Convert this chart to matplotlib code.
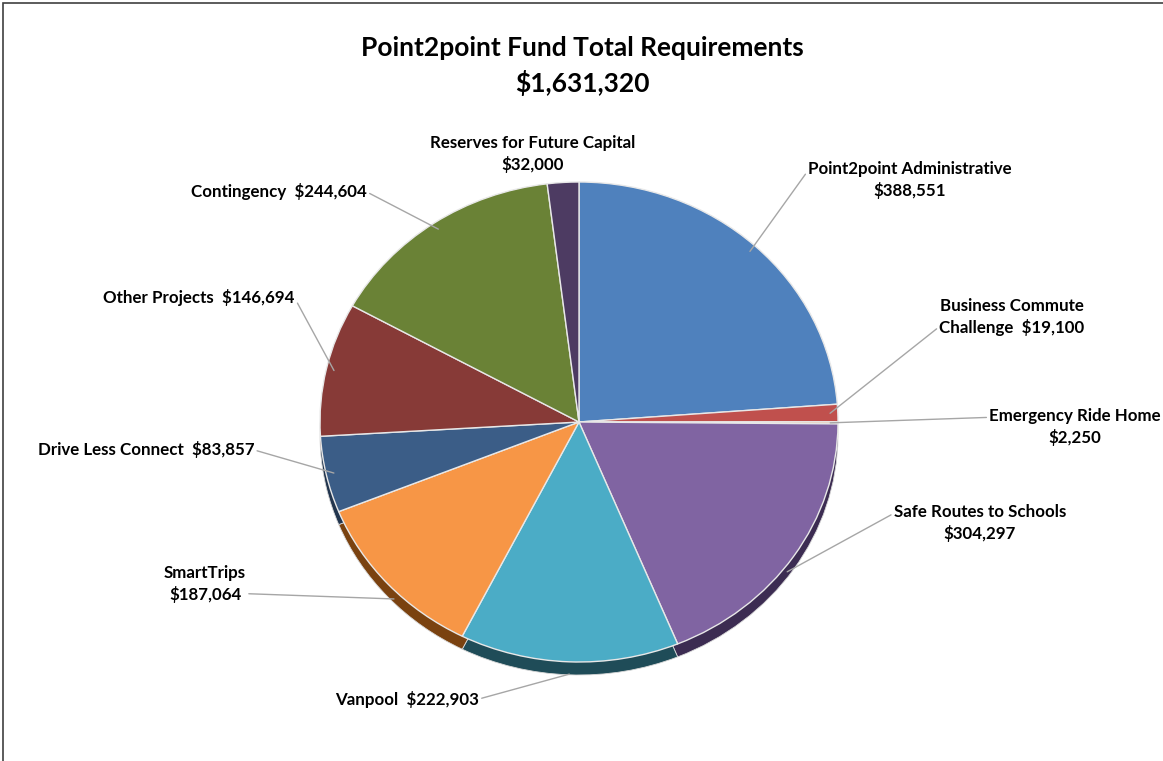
import matplotlib
matplotlib.use("Agg")
import matplotlib.pyplot as plt
from matplotlib.patches import Rectangle
import numpy as np

# data
categories = ["Point2point Administrative", "Business Commute Challenge", "Emergency Ride Home",
              "Safe Routes to Schools", "Vanpool", "SmartTrips", "Drive Less Connect",
              "Other Projects", "Contingency", "Reserves for Future Capital"]
values = [388551, 19100, 2250, 304297, 222903, 187064, 83857, 146694, 244604, 32000]
label_names = ["Point2point Administrative", "Business Commute\nChallenge", "Emergency Ride Home",
               "Safe Routes to Schools", "Vanpool", "SmartTrips", "Drive Less Connect",
               "Other Projects", "Contingency", "Reserves for Future Capital"]
label_sep = ["\n", "  ", "\n", "\n", "  ", "\n", "  ", "  ", "  ", "\n"]
title = "Point2point Fund Total Requirements"

top_colors = ["#4F81BD", "#C0504D", "#E6C7A6", "#8064A2", "#4BACC6", "#F79646",
              "#3B5D87", "#873A37", "#6A8236", "#4D3B62"]
side_colors = ["#2E4F78", "#7A2F2D", "#A88C70", "#3C2C52", "#1F4C58", "#7A4210",
               "#22354E", "#4E1F1E", "#3C4A1E", "#2A2038"]

# label layout (image pixels: centre x, centre y, relpos of leader start)
label_pos = [(910, 180, (0, 0.75)), (1012, 317, (0, 0.25)), (1075, 427, (0, 0.75)),
             (980, 523, (0, 0.75)), (407, 699, (1, 0.5)), (205, 584, (1, 0.25)),
             (146, 450, (1, 0.5)), (199, 298, (1, 0.5)), (279, 192, (1, 0.5)),
             (533, 154, None)]

W, H = 1163, 761
fig = plt.figure(figsize=(W / 100, H / 100), dpi=100)
fig.patch.set_facecolor("white")

# frame (top/left visible)
fig.patches.append(Rectangle((3, -20), W + 40, H - 3 + 20, transform=None,
                             fill=False, edgecolor="#404040", linewidth=1.2))

# pie axes, squashed into an ellipse
cx, cy = 579, 422
rx, ry = 259, 240
depth = 13 / ry
ax = fig.add_axes([(cx - rx) / W, (H - cy - ry) / H, 2 * rx / W, 2 * ry / H])
ax.axis("off")

side, _ = ax.pie(values, colors=side_colors, startangle=90, counterclock=False,
                 center=(0, -depth), radius=1,
                 wedgeprops=dict(edgecolor="#D8D8D8", linewidth=0.6))
top, _ = ax.pie(values, colors=top_colors, startangle=90, counterclock=False,
                center=(0, 0), radius=1,
                wedgeprops=dict(edgecolor="#E8E8E8", linewidth=1.0))
for w in side + top:
    w.set_clip_on(False)
ax.set_aspect("auto")
ax.set_xlim(-1, 1)
ax.set_ylim(-1, 1)

fig.text(582 / W, 1 - 48 / H, title, ha="center", va="center",
         fontsize=19, fontweight="bold", family="Lato")
fig.text(582 / W, 1 - 83 / H, "${:,}".format(sum(values)), ha="center", va="center",
         fontsize=19, fontweight="bold", family="Lato")

total = float(sum(values))
cum = np.cumsum([0] + values[:-1])
for i, v in enumerate(values):
    mid = np.deg2rad(90 - (cum[i] + v / 2) / total * 360)
    r = 0.97
    px = r * np.cos(mid)
    py = r * np.sin(mid)
    if py < -0.5:
        py -= 1.5 * depth
    txt = label_names[i] + label_sep[i] + "${:,}".format(v)
    x, y, rel = label_pos[i]
    ap = None
    if rel is not None:
        ap = dict(arrowstyle="-", color="#A6A6A6", lw=1.0, relpos=rel,
                  shrinkA=0, shrinkB=0)
    ax.annotate(txt, xy=(px, py), xycoords="data",
                xytext=(x, H - y), textcoords="figure pixels",
                ha="center", va="center", fontsize=12.2, fontweight="bold",
                family="Lato", linespacing=1.4, arrowprops=ap,
                annotation_clip=False)

fig.savefig("out.png", dpi=100, facecolor="white")
